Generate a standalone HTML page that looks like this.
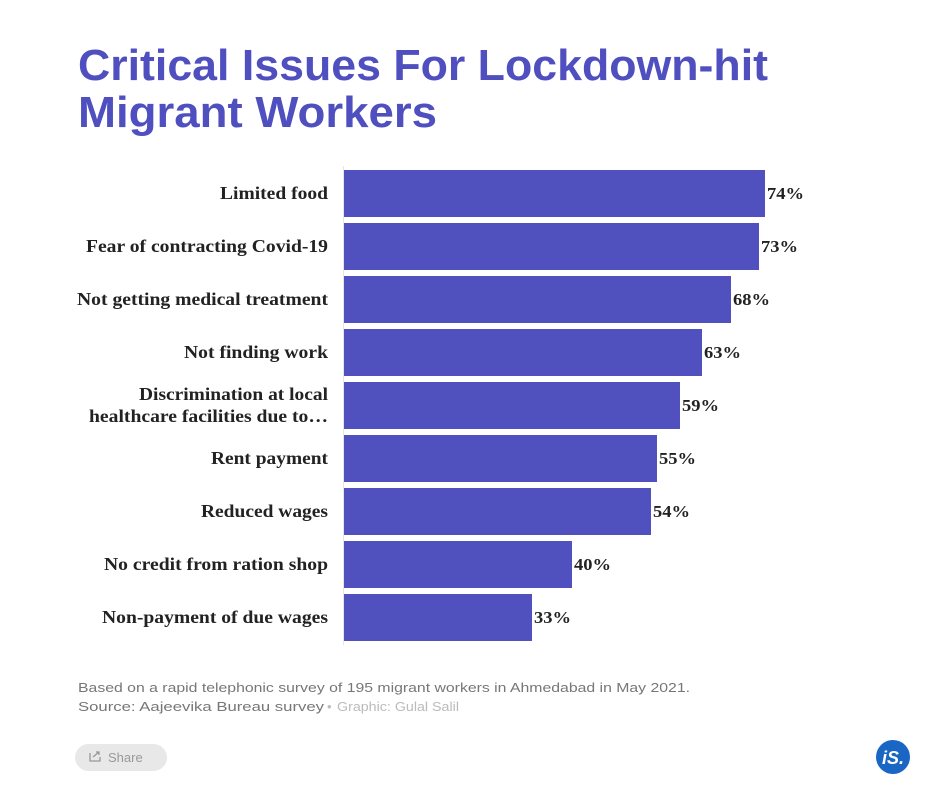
<!DOCTYPE html>
<html><head><meta charset="utf-8"><style>
html,body{margin:0;padding:0;background:#fff;}
svg{display:block;}
</style></head><body>
<svg width="934" height="795" viewBox="0 0 934 795" xmlns="http://www.w3.org/2000/svg">
<rect width="934" height="795" fill="#fff"/>
<g font-family="Liberation Sans, sans-serif" font-weight="bold" fill="#4f4fc0" font-size="44">
<text x="78" y="80" textLength="690" lengthAdjust="spacingAndGlyphs">Critical Issues For Lockdown-hit</text>
<text x="78" y="127" textLength="359" lengthAdjust="spacingAndGlyphs">Migrant Workers</text>
</g>
<line x1="343.5" y1="166" x2="343.5" y2="645" stroke="#e6e6e6"/>
<g fill="#5050bf">
<rect x="344" y="170" width="421" height="47"/>
<rect x="344" y="223" width="415" height="47"/>
<rect x="344" y="276" width="387" height="47"/>
<rect x="344" y="329" width="358" height="47"/>
<rect x="344" y="382" width="336" height="47"/>
<rect x="344" y="435" width="313" height="47"/>
<rect x="344" y="488" width="307" height="47"/>
<rect x="344" y="541" width="228" height="47"/>
<rect x="344" y="594" width="188" height="47"/>
</g>
<g font-family="Liberation Serif, serif" font-weight="bold" font-size="17.5" fill="#222" lengthAdjust="spacingAndGlyphs">
<text x="220" y="199" textLength="108" lengthAdjust="spacingAndGlyphs">Limited food</text>
<text x="86" y="252" textLength="242" lengthAdjust="spacingAndGlyphs">Fear of contracting Covid-19</text>
<text x="77" y="305" textLength="251" lengthAdjust="spacingAndGlyphs">Not getting medical treatment</text>
<text x="184" y="358" textLength="144" lengthAdjust="spacingAndGlyphs">Not finding work</text>
<text x="139" y="400" textLength="189" lengthAdjust="spacingAndGlyphs">Discrimination at local</text>
<text x="89" y="422" textLength="239" lengthAdjust="spacingAndGlyphs">healthcare facilities due to…</text>
<text x="211" y="464" textLength="117" lengthAdjust="spacingAndGlyphs">Rent payment</text>
<text x="201" y="517" textLength="127" lengthAdjust="spacingAndGlyphs">Reduced wages</text>
<text x="104" y="570" textLength="224" lengthAdjust="spacingAndGlyphs">No credit from ration shop</text>
<text x="102" y="623" textLength="226" lengthAdjust="spacingAndGlyphs">Non-payment of due wages</text>
</g>
<g font-family="Liberation Serif, serif" font-weight="bold" font-size="17" fill="#222">
<text x="767" y="199" textLength="37" lengthAdjust="spacingAndGlyphs">74%</text>
<text x="761" y="252" textLength="37" lengthAdjust="spacingAndGlyphs">73%</text>
<text x="733" y="305" textLength="37" lengthAdjust="spacingAndGlyphs">68%</text>
<text x="704" y="358" textLength="37" lengthAdjust="spacingAndGlyphs">63%</text>
<text x="682" y="411" textLength="37" lengthAdjust="spacingAndGlyphs">59%</text>
<text x="659" y="464" textLength="37" lengthAdjust="spacingAndGlyphs">55%</text>
<text x="653" y="517" textLength="37" lengthAdjust="spacingAndGlyphs">54%</text>
<text x="574" y="570" textLength="37" lengthAdjust="spacingAndGlyphs">40%</text>
<text x="534" y="623" textLength="37" lengthAdjust="spacingAndGlyphs">33%</text>
</g>
<g font-family="Liberation Sans, sans-serif" font-size="13" fill="#777">
<text x="78" y="692" textLength="612" lengthAdjust="spacingAndGlyphs">Based on a rapid telephonic survey of 195 migrant workers in Ahmedabad in May 2021.</text>
<text x="78" y="711" textLength="246" lengthAdjust="spacingAndGlyphs">Source: Aajeevika Bureau survey</text>
<text x="327" y="711" fill="#bbb">•</text>
<text x="337" y="711" fill="#bbb" textLength="122" lengthAdjust="spacingAndGlyphs">Graphic: Gulal Salil</text>
</g>
<rect x="75" y="744" width="92" height="27" rx="13.5" fill="#e8e8e8"/>
<g stroke="#999" stroke-width="1.3" fill="none">
<path d="M90 753 v8 h10 v-4"/>
<path d="M93 757 l6 -5 M96 752 h3 v3"/>
</g>
<text x="108" y="762" font-family="Liberation Sans, sans-serif" font-size="13" fill="#999">Share</text>
<circle cx="893" cy="757" r="17" fill="#1a66c4"/>
<text x="893" y="764" text-anchor="middle" font-family="Liberation Sans, sans-serif" font-weight="bold" font-style="italic" font-size="18" fill="#fff">iS.</text>
</svg>
</body></html>
